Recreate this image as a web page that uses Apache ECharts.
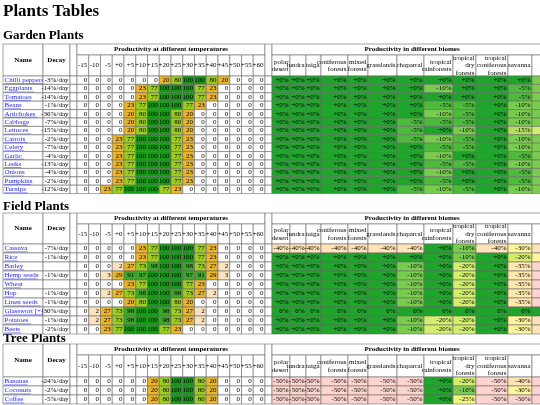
<!DOCTYPE html>
<html><head><meta charset="utf-8">
<script src="https://cdn.jsdelivr.net/npm/echarts@6/dist/echarts.min.js"></script>
<style>html,body{margin:0;padding:0;background:#fff}#c{width:540px;height:405px}</style>
</head><body><div id="c"></div>
<script>
const tempLabels=['-15','-10','-5','+0','+5','+10','+15','+20','+25','+30','+35','+40','+45','+50','+55','+60'];
const biomeLabels=['polar\ndesert','tundra','taiga','coniferous\nforests','mixed\nforests','grasslands','chaparral','tropical\nrainforests','tropical\ndry\nforests','tropical\nconiferous\nforests','savanna','desert'];

const gardenNames=['Chilli peppers','Eggplants','Tomatoes','Beans','Artichokes','Cabbage','Lettuces','Carrots','Celery','Garlic','Leeks','Onions','Pumpkins','Turnips'];
const gardenDecay=[-3,-14,-14,-1,-36,-7,-15,-2,-7,-4,-13,-4,-2,-12];
const gardenTemps=[
[0,0,0,0,0,0,0,20,80,100,100,80,20,0,0,0],
[0,0,0,0,0,23,77,100,100,100,77,23,0,0,0,0],
[0,0,0,0,0,23,77,100,100,100,77,23,0,0,0,0],
[0,0,0,0,23,77,100,100,100,77,23,0,0,0,0,0],
[0,0,0,0,20,80,100,100,80,20,0,0,0,0,0,0],
[0,0,0,0,20,80,100,100,80,20,0,0,0,0,0,0],
[0,0,0,0,20,80,100,100,80,20,0,0,0,0,0,0],
[0,0,0,23,77,100,100,100,77,23,0,0,0,0,0,0],
[0,0,0,23,77,100,100,100,77,23,0,0,0,0,0,0],
[0,0,0,23,77,100,100,100,77,23,0,0,0,0,0,0],
[0,0,0,23,77,100,100,100,77,23,0,0,0,0,0,0],
[0,0,0,23,77,100,100,100,77,23,0,0,0,0,0,0],
[0,0,0,23,77,100,100,100,77,23,0,0,0,0,0,0],
[0,0,23,77,100,100,100,77,23,0,0,0,0,0,0,0]];
const gardenBiomes=[
[0,0,0,0,0,0,0,0,0,0,0,-10],
[0,0,0,0,0,0,0,-10,0,0,-5,-10],
[0,0,0,0,0,0,0,0,0,0,-5,-10],
[0,0,0,0,0,0,0,-5,-5,0,-10,-10],
[0,0,0,0,0,0,0,-10,-5,0,-10,-10],
[0,0,0,0,0,0,-5,-5,-5,0,-10,-10],
[0,0,0,0,0,0,-5,0,-10,0,-15,-20],
[0,0,0,0,0,0,-5,-10,-5,0,-10,-10],
[0,0,0,0,0,0,0,-5,-5,0,-10,-10],
[0,0,0,0,0,0,0,-10,0,0,-5,-10],
[0,0,0,0,0,0,0,-5,-5,0,-10,-10],
[0,0,0,0,0,0,0,-10,0,0,-5,-10],
[0,0,0,0,0,0,0,-5,0,0,-5,-10],
[0,0,0,0,0,0,-5,-10,-5,0,-10,-10]];

const fieldNames=['Cassava','Rice','Barley','Hemp seeds','Wheat','Hop','Linen seeds','Glasswort [+]','Potatoes','Beets'];
const fieldDecay=[-7,-1,null,-1,null,-1,-1,-30,-1,-2];
const fieldTemps=[
[0,0,0,0,0,23,77,100,100,100,77,23,0,0,0,0],
[0,0,0,0,0,23,77,100,100,100,77,23,0,0,0,0],
[0,0,0,2,27,73,98,100,100,98,73,27,2,0,0,0],
[0,0,3,29,91,97,100,100,100,97,91,29,3,0,0,0],
[0,0,0,0,23,77,100,100,100,77,23,0,0,0,0,0],
[0,0,2,27,73,98,100,100,98,73,27,2,0,0,0,0],
[0,0,0,0,20,80,100,100,80,20,0,0,0,0,0,0],
[0,2,27,73,98,100,100,98,73,27,2,0,0,0,0,0],
[0,2,27,73,98,100,100,98,73,27,2,0,0,0,0,0],
[0,0,23,77,100,100,100,77,23,0,0,0,0,0,0,0]];
const fieldBiomes=[
[-40,-40,-40,-40,-40,-40,-40,0,-10,-40,-30,-40],
[0,0,0,0,0,0,0,0,-10,0,-20,-30],
[0,0,0,0,0,0,-10,0,-20,0,-35,-50],
[0,0,0,0,0,0,-10,0,-20,0,-35,-50],
[0,0,0,0,0,0,-10,0,-20,0,-35,-50],
[0,0,0,0,0,0,-10,0,-20,0,-35,-50],
[0,0,0,0,0,0,-10,0,-20,0,-35,-50],
[0,0,0,0,0,0,0,0,0,0,0,0],
[0,0,0,0,0,0,-10,-20,-20,0,-30,-40],
[0,0,0,0,0,0,-10,-20,-20,0,-30,-40]];
const fieldPlainZero=[false,false,false,false,false,false,false,true,false,false];

const treeNames=['Bananas','Coconuts','Coffee'];
const treeDecay=[-24,-2,-5];
const treeTemps=[
[0,0,0,0,0,0,20,80,100,100,80,20,0,0,0,0],
[0,0,0,0,0,0,20,80,100,100,80,20,0,0,0,0],
[0,0,0,0,0,0,20,80,100,100,80,20,0,0,0,0]];
const treeBiomes=[
[-50,-50,-50,-50,-50,-50,-50,0,-20,-50,-40,-50],
[-50,-50,-50,-50,-50,-50,-50,0,-10,-50,-30,-50],
[-50,-50,-50,-50,-50,-50,-50,0,-25,-50,-50,-50]];

// ---- layout ----
const FONT='Liberation Serif';
const FS='7px ';
const nameCol=[3,43], decayCol=[43,70], gap1=[70,77], tempX0=77, tempW=11.75, gap2=[265,272];
const biomeEdges=[272,290,306,321,348,368,397,424,453,476,508,532,575];
const head1=11;
const tables=[
 {title:'Garden Plants',titleY:29,top:44,headerH:32,rowH:8.4,names:gardenNames,decay:gardenDecay,temps:gardenTemps,biomes:gardenBiomes},
 {title:'Field Plants',titleY:200,top:213,headerH:31,rowH:9,names:fieldNames,decay:fieldDecay,temps:fieldTemps,biomes:fieldBiomes,plain:fieldPlainZero},
 {title:'Tree Plants',titleY:332,top:344,headerH:33,rowH:9,names:treeNames,decay:treeDecay,temps:treeTemps,biomes:treeBiomes}];

function tempColor(v){
  if(v<=0) return '#ffffff';
  if(v<5) return '#fbe3c0';
  if(v<35) return '#e9b52a';
  if(v<85) return '#9ccc1e';
  if(v<99) return '#3ea62a';
  return '#149a14';
}
function biomeColor(v){
  const m={0:'#1fa42c','-5':'#4dba3c','-10':'#79cc4e','-15':'#b1df5c','-20':'#d2ee6c','-25':'#f2f57e','-30':'#fdf59b','-35':'#ffe9ad','-40':'#ffe3b6','-50':'#ffd4cf'};
  return m[v]||'#fff';
}
const option={animation:false,grid:[],xAxis:[],yAxis:[],series:[],graphic:[]};
const G=option.graphic;
G.push({type:'text',left:3,top:3,style:{text:'Plants Tables',font:'bold 17px '+FONT,fill:'#000'}});

tables.forEach((t,ti)=>{
  const n=t.names.length, headerH=t.headerH, gTop=t.top+headerH;
  option.grid.push({left:0,width:540,top:gTop,height:n*t.rowH});
  option.xAxis.push({type:'value',gridIndex:ti,min:0,max:540,show:false});
  option.yAxis.push({type:'category',gridIndex:ti,data:t.names,inverse:true,show:false});
  const cells=[];
  t.names.forEach((nm,r)=>{
    cells.push({x:nameCol,r,text:nm,fill:'#fff',color:'#1a1aee',align:'left',ul:true});
    cells.push({x:decayCol,r,text:t.decay[r]==null?'':t.decay[r]+'%/day',fill:'#fff',color:'#000',align:'right'});
    cells.push({x:gap1,r,text:'',fill:'#fff'});
    t.temps[r].forEach((v,i)=>cells.push({x:[tempX0+i*tempW,tempX0+(i+1)*tempW],r,text:String(v),fill:tempColor(v),color:'#000',align:'right'}));
    cells.push({x:gap2,r,text:'',fill:'#fff'});
    t.biomes[r].forEach((v,i)=>{
      const plain=t.plain&&t.plain[r];
      const txt=v>=0?(plain?'0%':'+'+v+'%'):v+'%';
      cells.push({x:[biomeEdges[i],biomeEdges[i+1]],r,text:txt,fill:biomeColor(v),color:'#000',align:'right'});
    });
  });
  option.series.push({type:'custom',xAxisIndex:ti,yAxisIndex:ti,silent:true,
    data:cells.map(c=>[c.x[0],c.x[1],c.r]),
    renderItem:(params,api)=>{
      const c=cells[params.dataIndex];
      const p0=api.coord([api.value(0),api.value(2)]), p1=api.coord([api.value(1),api.value(2)]);
      const h=api.size([0,1])[1];
      const x=p0[0],y=p0[1]-h/2,w=p1[0]-p0[0];
      const kids=[{type:'rect',shape:{x,y,width:w,height:h},style:{fill:c.fill,stroke:'#6a6a6a',lineWidth:0.6}}];
      if(c.text){
        const tx=c.align==='left'?x+1.5:x+w-1.5;
        kids.push({type:'text',style:{x:tx,y:p0[1],text:c.text,fill:c.color,font:FS+FONT,align:c.align,verticalAlign:'middle'}});
        if(c.ul){
          kids.push({type:'line',shape:{x1:tx,y1:p0[1]+3.4,x2:tx+c.text.length*3.3,y2:p0[1]+3.4},style:{stroke:'#1a1aee',lineWidth:0.5}});
        }
      }
      return {type:'group',children:kids};
    }});
  G.push({type:'text',left:3,top:t.titleY,style:{text:t.title,font:'bold 13px '+FONT,fill:'#000'}});
  const top=t.top;
  function hcell(x0,x1,y0,y1,text,opt){
    opt=opt||{};
    G.push({type:'rect',shape:{x:x0,y:y0,width:x1-x0,height:y1-y0},style:{fill:'#fff',stroke:'#6a6a6a',lineWidth:0.6}});
    if(text){
      const al=opt.align||'center';
      const tx=al==='center'?(x0+x1)/2:x1-1.5;
      G.push({type:'text',style:{x:tx,y:(y0+y1)/2,text,font:(opt.bold?'bold ':'')+FS+FONT,fill:'#000',align:al,verticalAlign:'middle',lineHeight:7.5}});
    }
  }
  hcell(nameCol[0],nameCol[1],top,top+headerH,'Name',{bold:true});
  hcell(decayCol[0],decayCol[1],top,top+headerH,'Decay',{bold:true});
  hcell(gap1[0],gap1[1],top,top+headerH,'');
  hcell(tempX0,tempX0+16*tempW,top,top+head1,'Productivity at different temperatures',{bold:true});
  tempLabels.forEach((l,i)=>hcell(tempX0+i*tempW,tempX0+(i+1)*tempW,top+head1,top+headerH,l,{align:'right'}));
  hcell(gap2[0],gap2[1],top,top+headerH,'');
  hcell(biomeEdges[0],biomeEdges[12],top,top+head1,'',{});
  G.push({type:'text',style:{x:(biomeEdges[0]+biomeEdges[11])/2+10,y:top+head1/2,text:'Productivity in different biomes',font:'bold '+FS+FONT,fill:'#000',align:'center',verticalAlign:'middle'}});
  biomeLabels.forEach((l,i)=>hcell(biomeEdges[i],biomeEdges[i+1],top+head1,top+headerH,l,{align:'right'}));
});
const chart=echarts.init(document.getElementById('c'),null,{renderer:'canvas'});
chart.setOption(option);
</script></body></html>
